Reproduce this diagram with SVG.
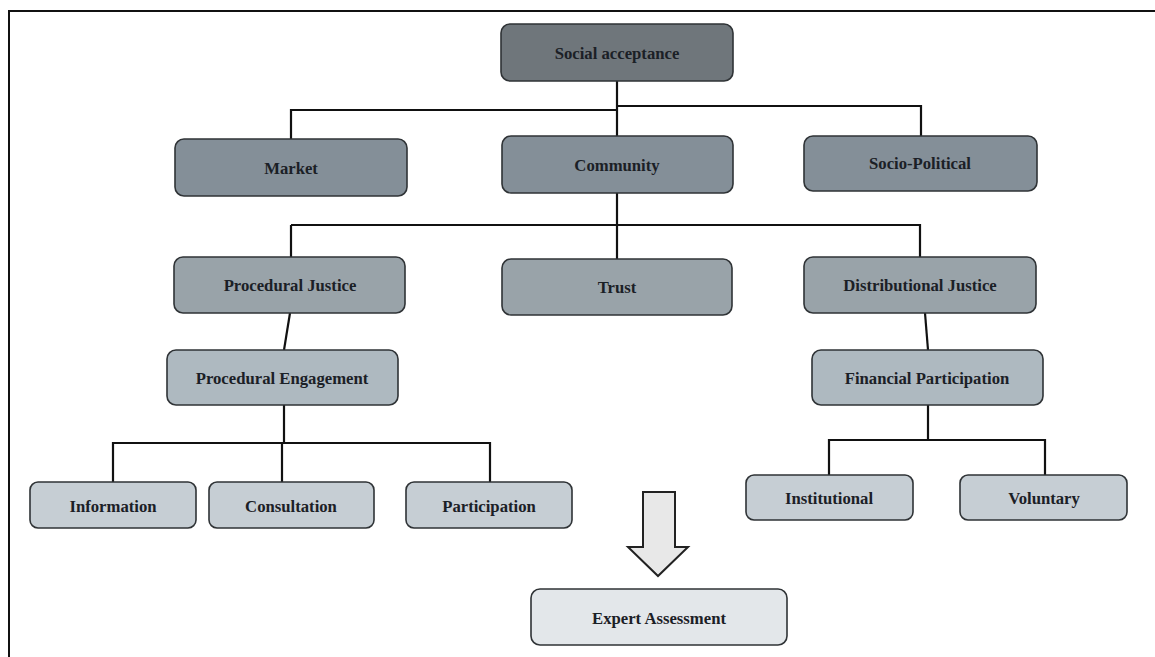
<svg xmlns="http://www.w3.org/2000/svg" width="1155" height="657" viewBox="0 0 1155 657">
<style>
.box{stroke:#2f3336;stroke-width:1.6}
.l1{fill:#6f767b}
.l2{fill:#848f98}
.l3{fill:#99a3a9}
.l4{fill:#aeb9c0}
.l5{fill:#c6ced4}
.l6{fill:#e3e7ea}
.t{font-family:"Liberation Serif","Times New Roman",serif;font-weight:bold;font-size:16.7px;fill:#1b2026;text-anchor:middle;dominant-baseline:central}
.c{fill:none;stroke:#111;stroke-width:2.2}
</style>
<rect x="0" y="0" width="1155" height="657" fill="#ffffff"/>
<path d="M9,657 V11 H1160" fill="none" stroke="#111" stroke-width="2"/>
<g id="connectors">
<path class="c" d="M617,81 V136"/>
<path class="c" d="M617,110 H291 V139"/>
<path class="c" d="M617,106 H921 V136"/>
<path class="c" d="M617,193 V259"/>
<path class="c" d="M291,225 H920 V257"/>
<path class="c" d="M291,225 V257"/>
<path class="c" d="M290,313 L284,350"/>
<path class="c" d="M284,405 V443"/>
<path class="c" d="M113,482 V443 H490 V482"/>
<path class="c" d="M282,443 V482"/>
<path class="c" d="M925,313 L928,350"/>
<path class="c" d="M928,405 V440"/>
<path class="c" d="M829,475 V440 H1045 V475"/>
</g>
<g id="social-acceptance"><rect class="box l1" x="501" y="24" width="232" height="57" rx="9"/><text class="t" x="617" y="53">Social acceptance</text></g>
<g id="market"><rect class="box l2" x="175" y="139" width="232" height="57" rx="9"/><text class="t" x="291" y="168">Market</text></g>
<g id="community"><rect class="box l2" x="502" y="136" width="231" height="57" rx="9"/><text class="t" x="617" y="165">Community</text></g>
<g id="socio-political"><rect class="box l2" x="804" y="136" width="233" height="55" rx="9"/><text class="t" x="920" y="163">Socio-Political</text></g>
<g id="procedural-justice"><rect class="box l3" x="174" y="257" width="231" height="56" rx="9"/><text class="t" x="290" y="285">Procedural Justice</text></g>
<g id="trust"><rect class="box l3" x="502" y="259" width="230" height="56" rx="9"/><text class="t" x="617" y="287">Trust</text></g>
<g id="distributional-justice"><rect class="box l3" x="804" y="257" width="232" height="56" rx="9"/><text class="t" x="920" y="285">Distributional Justice</text></g>
<g id="procedural-engagement"><rect class="box l4" x="167" y="350" width="231" height="55" rx="9"/><text class="t" x="282" y="378">Procedural Engagement</text></g>
<g id="financial-participation"><rect class="box l4" x="812" y="350" width="231" height="55" rx="9"/><text class="t" x="927" y="378">Financial Participation</text></g>
<g id="information"><rect class="box l5" x="30" y="482" width="166" height="46" rx="8"/><text class="t" x="113" y="506">Information</text></g>
<g id="consultation"><rect class="box l5" x="209" y="482" width="165" height="46" rx="8"/><text class="t" x="291" y="506">Consultation</text></g>
<g id="participation"><rect class="box l5" x="406" y="482" width="166" height="46" rx="8"/><text class="t" x="489" y="506">Participation</text></g>
<g id="institutional"><rect class="box l5" x="746" y="475" width="167" height="45" rx="8"/><text class="t" x="829" y="498">Institutional</text></g>
<g id="voluntary"><rect class="box l5" x="960" y="475" width="167" height="45" rx="8"/><text class="t" x="1044" y="498">Voluntary</text></g>
<g id="arrow"><path d="M643,492 H675 V547 H688 L658,576 L628,547 H643 Z" fill="#e8e8e8" stroke="#222" stroke-width="2" stroke-linejoin="miter"/></g>
<g id="expert-assessment"><rect class="box l6" x="531" y="589" width="256" height="56" rx="9"/><text class="t" x="659" y="618">Expert Assessment</text></g>
</svg>
